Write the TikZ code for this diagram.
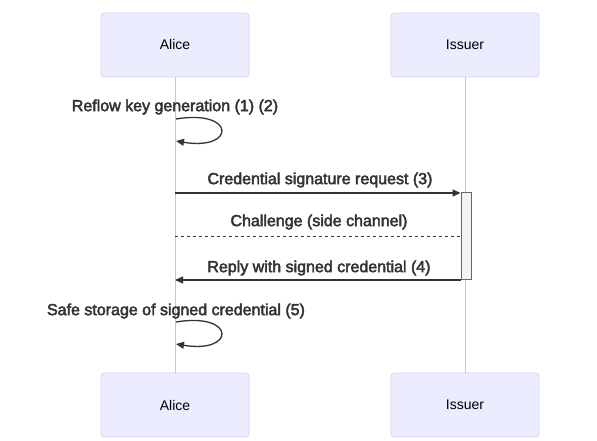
\documentclass[tikz,border=0pt]{standalone}
\usepackage{fontspec}
\setmainfont{Liberation Sans}
\newcommand\heavytext[1]{\special{pdf:literal direct 2 Tr 0.45 w 0.2 0.2 0.2 RG}#1\special{pdf:literal direct 0 Tr}}
\usetikzlibrary{arrows.meta,positioning}
\definecolor{actfill}{HTML}{ECECFF}
\definecolor{actdraw}{HTML}{DACEF3}
\definecolor{msgcol}{HTML}{333333}
\definecolor{lifecol}{HTML}{C8C8C8}
\definecolor{actvfill}{HTML}{F4F4F4}
\definecolor{actvdraw}{HTML}{666666}
\begin{document}
\begin{tikzpicture}[x=1pt,y=1pt,
  actor/.style={draw=actdraw,fill=actfill,line width=0.8pt,rounded corners=3pt,
    minimum width=148pt,minimum height=64pt,inner sep=0pt,font=\fontsize{14}{16}\selectfont},
  lifeline/.style={draw=lifecol,line width=0.7pt},
  msg/.style={draw=msgcol,line width=1.3pt,-{Triangle[length=8pt,width=7pt]}},
  dotmsg/.style={draw=msgcol,line width=1pt,dash pattern=on 3pt off 3pt},
  msglabel/.style={text=msgcol,font=\fontsize{16}{18}\selectfont,inner sep=0pt},
  activation/.style={draw=actvdraw,fill=actvfill,line width=0.7pt,minimum width=10pt,
    minimum height=87pt,inner sep=0pt}]
\useasboundingbox (0,0) rectangle (597,441);
% actors
\node[actor] (aliceT) at (175,396) {Alice};
\node[actor] (issuerT) at (465,396) {Issuer};
\node[actor] (aliceB) at (175,36) {Alice};
\node[actor] (issuerB) at (465,36) {Issuer};
% lifelines
\draw[lifeline] (aliceT.south) -- (aliceB.north);
\draw[lifeline] (issuerT.south) -- (issuerB.north);
% self loop 1
\coordinate (l1s) at (176,322);
\coordinate (l1e) at (176,300);
\node[msglabel] (lab1) at (175,334) {\heavytext{Reflow key generation (1) (2)}};
\draw[msg] (l1s) .. controls (236,332) and (236,290) .. (l1e);
% message 3
\coordinate (m3s) at (175,248);
\coordinate (m3e) at (460.5,248);
\node[msglabel] (lab3) at (320,261) {\heavytext{Credential signature request (3)}};
\draw[msg] (m3s) -- (m3e);
% activation
\node[activation,anchor=north west] (act) at (460.5,248.5) {};
% challenge
\coordinate (chs) at (175,204.5);
\node[msglabel] (labch) at (319,219) {\heavytext{Challenge (side channel)}};
\draw[dotmsg] (chs) -- (chs -| act.west);
% reply
\coordinate (rpe) at (175,161);
\node[msglabel] (lab4) at (319,173) {\heavytext{Reply with signed credential (4)}};
\draw[msg] (rpe -| act.west) -- (rpe);
% self loop 2
\coordinate (l2s) at (176,119);
\coordinate (l2e) at (176,97);
\node[msglabel] (lab5) at (176,130) {\heavytext{Safe storage of signed credential (5)}};
\draw[msg] (l2s) .. controls (236,129) and (236,87) .. (l2e);
\end{tikzpicture}
\end{document}
